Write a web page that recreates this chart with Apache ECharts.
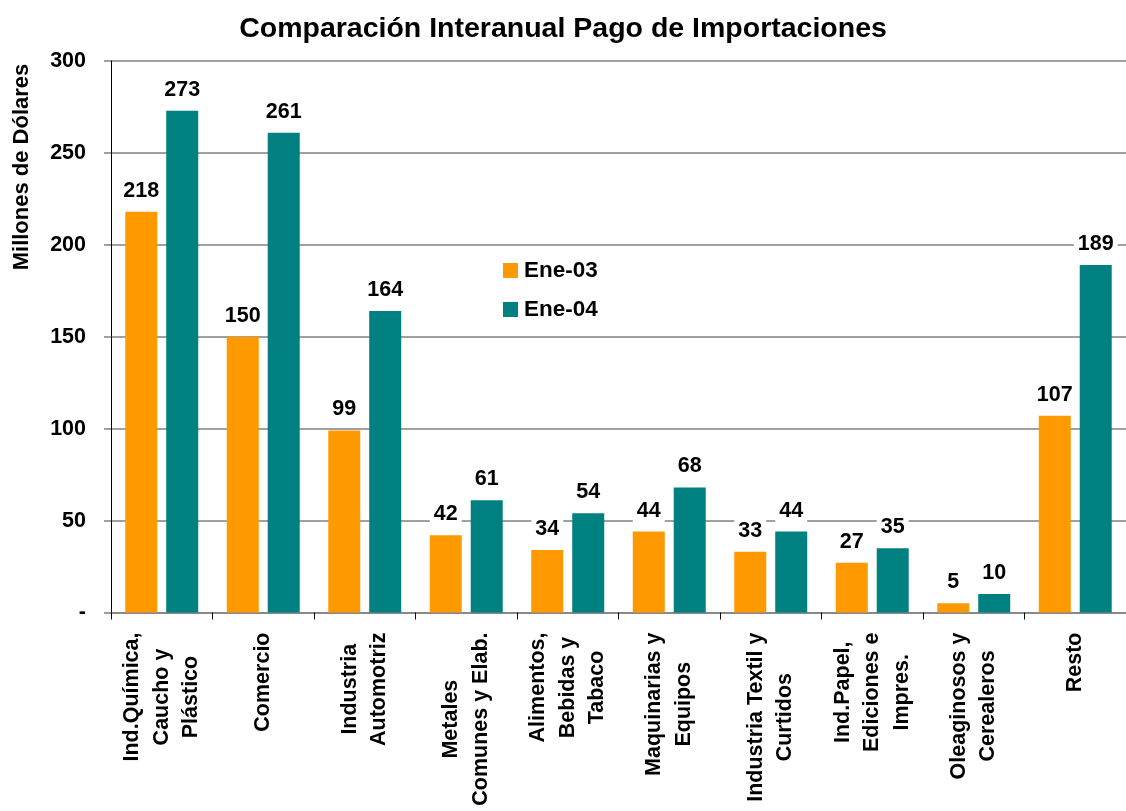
<!DOCTYPE html>
<html>
<head>
<meta charset="utf-8">
<script src="https://cdn.jsdelivr.net/npm/echarts@6/dist/echarts.min.js"></script>
<style>
html,body{margin:0;padding:0;background:#fff;}
#chart{width:1126px;height:811px;}
</style>
</head>
<body>
<div id="chart"></div>
<script>
const categories = [
  "Ind.Química,\nCaucho y\nPlástico",
  "Comercio",
  "Industria\nAutomotriz",
  "Metales\nComunes y Elab.",
  "Alimentos,\nBebidas y\nTabaco",
  "Maquinarias y\nEquipos",
  "Industria Textil y\nCurtidos",
  "Ind.Papel,\nEdiciones e\nImpres.",
  "Oleaginosos y\nCerealeros",
  "Resto"
];
const ene03 = [218, 150, 99, 42, 34, 44, 33, 27, 5, 107];
const ene04 = [273, 261, 164, 61, 54, 68, 44, 35, 10, 189];
const seriesNames = ["Ene-03", "Ene-04"];
const titleText = "Comparación Interanual Pago de Importaciones";
const yName = "Millones de Dólares";

const FONT = "'Liberation Sans', Arial, sans-serif";
const chart = echarts.init(document.getElementById('chart'));

const labelStyle = {
  show: true,
  position: 'top',
  distance: 8,
  fontFamily: FONT,
  fontSize: 21.5,
  fontWeight: 'bold',
  color: '#000',
  backgroundColor: '#fff',
  padding: [2, 4, 2, 4]
};

chart.setOption({
  animation: false,
  backgroundColor: '#fff',
  title: {
    text: titleText,
    left: 'center',
    top: 10,
    textStyle: { fontFamily: FONT, fontSize: 28.5, fontWeight: 'bold', color: '#000' }
  },
  graphic: [{
    type: 'text',
    x: 22,
    y: 167,
    rotation: Math.PI / 2,
    style: {
      text: yName,
      fontFamily: FONT,
      fontSize: 22,
      fontWeight: 'bold',
      fill: '#000',
      align: 'center',
      verticalAlign: 'middle'
    }
  }],
  legend: {
    orient: 'vertical',
    left: 503,
    top: 259,
    padding: 0,
    itemWidth: 15,
    itemHeight: 15,
    itemGap: 16,
    icon: 'rect',
    textStyle: { fontFamily: FONT, fontSize: 22.5, fontWeight: 'bold', color: '#000', padding: [0, 0, 0, 1] },
    data: seriesNames
  },
  grid: { left: 111, top: 61, width: 1022, bottom: 198.5 },
  xAxis: {
    type: 'category',
    data: categories,
    axisLine: { show: true, lineStyle: { color: '#808080', width: 1.5 } },
    axisTick: { show: true, length: 7, inside: false, lineStyle: { color: '#000', width: 1 } },
    axisLabel: {
      interval: 0,
      rotate: 90,
      margin: 20,
      formatter: function (v) {
        return v.split('\n').map(function (s) { return '{c|' + s + '}'; }).join('\n');
      },
      rich: {
        c: { fontFamily: FONT, fontSize: 21.5, fontWeight: 'bold', color: '#000', lineHeight: 29.5, align: 'center' }
      }
    }
  },
  yAxis: {
    type: 'value',
    min: 0,
    max: 300,
    interval: 50,
    axisLine: { show: true, lineStyle: { color: '#000', width: 1 } },
    axisTick: { show: true, length: 7, lineStyle: { color: '#808080', width: 1.5 } },
    splitLine: { show: true, lineStyle: { color: '#808080', width: 1.5 } },
    axisLabel: {
      margin: 25,
      fontFamily: FONT,
      fontSize: 21.5,
      fontWeight: 'bold',
      color: '#000',
      formatter: function (v) { return v === 0 ? '-' : String(v); }
    }
  },
  series: [
    {
      name: seriesNames[0],
      type: 'bar',
      data: ene03,
      barWidth: 32,
      barGap: '28%',
      itemStyle: { color: '#FF9900' },
      label: labelStyle,
      z: 3
    },
    {
      name: seriesNames[1],
      type: 'bar',
      data: ene04,
      barWidth: 32,
      barGap: '28%',
      itemStyle: { color: '#008080' },
      label: labelStyle,
      z: 3
    }
  ]
});
</script>
</body>
</html>
